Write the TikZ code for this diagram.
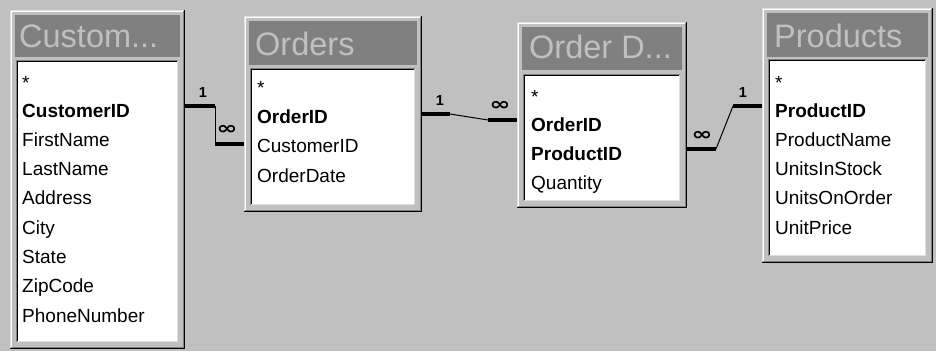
\documentclass[tikz,border=0pt]{standalone}
\usepackage{graphicx}
\usepackage{fontspec}
\setmainfont{Liberation Sans}
\newfontfamily\djv{DejaVu Sans}
\definecolor{bg}{HTML}{C0C0C0}
\definecolor{dk}{HTML}{808080}
\definecolor{lt}{HTML}{DFDFDF}
\tikzset{
 fld/.style={anchor=base west, inner sep=0pt, font=\fontsize{19}{19}\selectfont},
 keyfld/.style={anchor=base west, inner sep=0pt, font=\fontsize{19}{19}\selectfont\bfseries},
 ttl/.style={anchor=base west, inner sep=0pt, text=bg, font=\fontsize{32.5}{32.5}\selectfont},
 onelbl/.style={inner sep=0pt, font=\fontsize{14.5}{14.5}\selectfont\bfseries},
 manylbl/.style={inner sep=0pt, font=\djv\fontsize{20}{20}\selectfont\bfseries},
 heavy/.style={line width=3.8pt},
 thinln/.style={line width=1pt}
}
\newcommand\manysym{\scalebox{1.25}[0.9]{∞}}
% L T R B titleBottom listTop
\newcommand\dbtable[6]{%
 \fill[bg] (#1,#2) rectangle (#3,#4);
 \draw[lt, line width=1pt] (#1+0.5,#4) -- (#1+0.5,#2+0.5) -- (#3,#2+0.5);
 \draw[white, line width=1pt] (#1+1.5,#4-1) -- (#1+1.5,#2+1.5) -- (#3-1,#2+1.5);
 \draw[black, line width=1.2pt] (#1,#4-0.6) -- (#3-0.6,#4-0.6) -- (#3-0.6,#2);
 \draw[dk, line width=1pt] (#1+1,#4-1.7) -- (#3-1.7,#4-1.7) -- (#3-1.7,#2+1);
 \fill[dk] (#1+5,#2+5) rectangle (#3-5,#5);
 \fill[white] (#1+6,#6) rectangle (#3-7,#4-7);
 \draw[dk, line width=1pt] (#1+6.5,#4-7) -- (#1+6.5,#6+0.5) -- (#3-7,#6+0.5);
 \draw[black, line width=1pt] (#1+7.5,#4-8) -- (#1+7.5,#6+1.5) -- (#3-8,#6+1.5);
 \draw[lt, line width=1pt] (#1+7,#4-7.5) -- (#3-7.5,#4-7.5) -- (#3-7.5,#6+1);
}
\begin{document}
\begin{tikzpicture}[x=1pt,y=-1pt]
\useasboundingbox (0,0) rectangle (936,351);
\fill[bg] (0,0) rectangle (936,351);

% Customers
\dbtable{10}{10}{185}{349}{57}{60}
\node[ttl] (tcust) at (19,47) {Custom...};
\node[fld] (c0) at (22,89) {*};
\node[keyfld] (c1) at (22,117) {CustomerID};
\node[fld] (c2) at (22,146.3) {FirstName};
\node[fld] (c3) at (22,175.6) {LastName};
\node[fld] (c4) at (22,204.9) {Address};
\node[fld] (c5) at (22,234.2) {City};
\node[fld] (c6) at (22,263.5) {State};
\node[fld] (c7) at (22,292.8) {ZipCode};
\node[fld] (c8) at (22,322.1) {PhoneNumber};

% Orders
\dbtable{244}{16}{422}{212}{65}{68}
\node[ttl] (tord) at (255,55) {Orders};
\node[fld] (o0) at (257,94.5) {*};
\node[keyfld] (o1) at (257,123) {OrderID};
\node[fld] (o2) at (257,152.5) {CustomerID};
\node[fld] (o3) at (257,182) {OrderDate};

% Order Details
\dbtable{517}{22}{687}{208}{70}{74}
\node[ttl] (tod) at (529,58) {Order D...};
\node[fld] (d0) at (531,103) {*};
\node[keyfld] (d1) at (531,131) {OrderID};
\node[keyfld] (d2) at (531,160) {ProductID};
\node[fld] (d3) at (531,189) {Quantity};

% Products
\dbtable{762}{8}{933}{263}{57}{59}
\node[ttl] (tprod) at (774,47) {Products};
\node[fld] (p0) at (775,89) {*};
\node[keyfld] (p1) at (775,117) {ProductID};
\node[fld] (p2) at (775,146.3) {ProductName};
\node[fld] (p3) at (775,175.6) {UnitsInStock};
\node[fld] (p4) at (775,204.9) {UnitsOnOrder};
\node[fld] (p5) at (775,234.2) {UnitPrice};

% connector 1: Customers - Orders
\coordinate (c1a) at (185,106);
\coordinate (c1b) at (215,106);
\coordinate (c1c) at (215,144);
\coordinate (c1d) at (244,144);
\draw[heavy] (c1a) -- (c1b);
\draw[thinln] (c1b) -- (c1c);
\draw[heavy] (c1c) -- (c1d);
\node[onelbl] (l1a) at (203,93) {1};
\node[manylbl] (l1b) at (227,130) {\manysym};

% connector 2: Orders - Order Details
\coordinate (c2a) at (422,114);
\coordinate (c2b) at (450,114);
\coordinate (c2c) at (488,120);
\coordinate (c2d) at (517,120);
\draw[heavy] (c2a) -- (c2b);
\draw[thinln] (c2b) -- (c2c);
\draw[heavy] (c2c) -- (c2d);
\node[onelbl] (l2a) at (440,101) {1};
\node[manylbl] (l2b) at (500,106) {\manysym};

% connector 3: Order Details - Products
\coordinate (c3a) at (687,149);
\coordinate (c3b) at (716,149);
\coordinate (c3c) at (733,106);
\coordinate (c3d) at (762,106);
\draw[heavy] (c3a) -- (c3b);
\draw[thinln] (c3b) -- (c3c);
\draw[heavy] (c3c) -- (c3d);
\node[manylbl] (l3a) at (702,136) {\manysym};
\node[onelbl] (l3b) at (743,93) {1};
\end{tikzpicture}
\end{document}
